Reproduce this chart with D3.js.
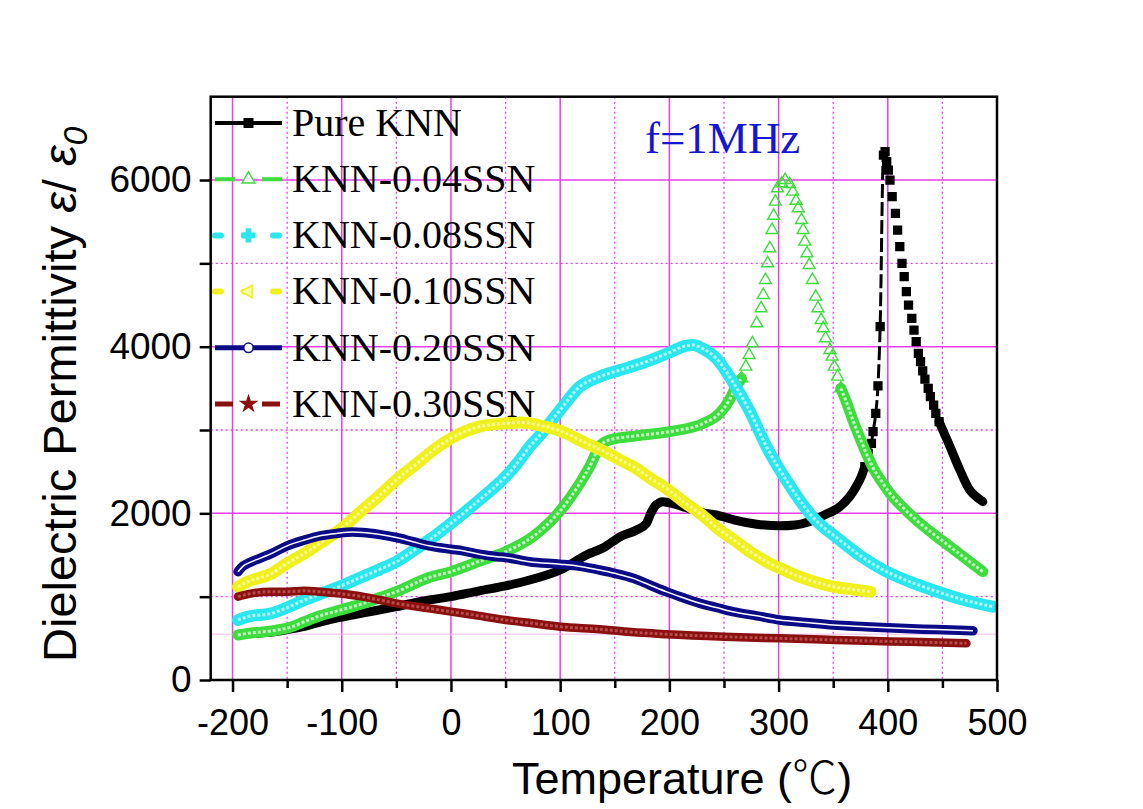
<!DOCTYPE html>
<html>
<head>
<meta charset="utf-8">
<script src="https://cdn.jsdelivr.net/npm/d3@7"></script>
<style>
  body { margin: 0; background: #fff; }
</style>
</head>
<body>
<svg id="chart" width="1143" height="809"></svg>
<script>
// ---- data: [temperature (°C), permittivity] ----
const pureKNN = [[-195,540],[-186,555],[-164,575],[-150,605],[-134,645],[-120,695],[-104,745],[-80,805],[-50,880],
  [-20,960],[0,1000],[26,1070],[50,1130],[72,1200],[100,1320],[124,1500],[140,1590],[155,1720],[170,1800],[179,1880],
  [183,2000],[187,2090],[194,2140],[205,2110],[215,2070],[230,2010],[246,1970],[260,1920],[280,1870],[301,1850],
  [315,1860],[328,1900],[342,1980],[356,2080],[365,2200],[371,2320],[376,2450],[379,2560],[382,2720],[385,2840],
  [386.5,2980],[389,3200],[391,3530],[393,4240],[396,6300],[397.5,6340],[399,6220],[400.5,6120],[402,6000],[404,5800],
  [407,5600],[409,5400],[411,5200],[413,5000],[415,4840],[417,4660],[419,4500],[422,4340],[424,4200],[426,4060],
  [428,3920],[430,3820],[432,3710],[434,3610],[437,3500],[439,3400],[442,3300],[444,3200],[447,3100],[452,2950],
  [457,2800],[466,2520],[475,2280],[481,2200],[487,2140]];
const knn004 = [[-195,540],[-186,560],[-164,590],[-148,630],[-134,700],[-120,770],[-104,830],[-80,920],[-65,990],
  [-50,1060],[-20,1230],[0,1300],[25,1420],[50,1540],[75,1720],[100,2030],[118,2360],[127,2560],[136,2800],[145,2880],
  [170,2930],[200,2980],[231,3080],[246,3200],[255,3360],[261,3520],[266,3620],[270,3760],[273,3900],[276,4040],
  [280,4280],[284,4460],[286,4620],[288,4800],[290,5000],[292,5180],[294,5400],[295.5,5570],[297,5740],[299,5900],
  [303,5960],[306,6000],[310,5950],[313,5860],[316,5750],[318,5660],[321,5520],[322.5,5400],[324,5260],[326,5120],
  [328,4980],[331,4800],[334,4600],[336,4460],[339,4320],[341,4220],[343,4100],[347,3960],[349,3880],[351,3760],
  [354,3640],[357,3500],[362,3340],[368,3120],[374,2920],[380,2730],[386,2560],[394,2390],[402,2240],[414,2070],
  [426,1920],[441,1760],[457,1600],[472,1450],[487,1300]];
const knn008 = [[-195,720],[-186,760],[-164,800],[-150,870],[-134,960],[-120,1030],[-104,1110],[-81,1240],[-65,1330],
  [-50,1420],[-29,1600],[-20,1680],[0,1880],[15,2040],[26,2160],[42,2340],[50,2440],[63,2640],[72,2800],[81,2930],
  [100,3240],[118,3520],[136,3640],[155,3720],[179,3820],[200,3930],[215,4010],[222,4020],[230,3980],[243,3860],
  [258,3580],[273,3240],[289,2800],[307,2400],[331,1960],[356,1680],[376,1480],[396,1320],[420,1180],[441,1080],
  [470,960],[496,880]];
const knn010 = [[-195,1120],[-186,1180],[-164,1280],[-150,1400],[-134,1520],[-120,1640],[-104,1780],[-81,2040],
  [-65,2220],[-50,2400],[-29,2620],[-20,2720],[0,2900],[26,3040],[50,3080],[65,3090],[80,3060],[100,2990],[124,2840],
  [136,2770],[155,2640],[167,2560],[185,2400],[197,2300],[215,2120],[228,2000],[246,1800],[258,1690],[275,1530],
  [289,1420],[305,1320],[319,1240],[335,1170],[350,1120],[366,1090],[384,1060]];
const knn020 = [[-195,1300],[-190,1370],[-186,1400],[-175,1460],[-164,1520],[-150,1610],[-134,1680],[-120,1730],
  [-104,1760],[-90,1775],[-81,1770],[-65,1745],[-50,1710],[-35,1660],[-20,1610],[0,1570],[11,1550],[26,1510],
  [42,1480],[50,1470],[72,1420],[100,1390],[120,1360],[136,1320],[150,1280],[167,1220],[182,1140],[197,1060],
  [212,990],[228,920],[243,870],[258,820],[280,770],[301,720],[325,690],[350,660],[380,640],[411,620],[445,605],
  [478,590]];
const knn030 = [[-195,1000],[-186,1030],[-164,1060],[-150,1060],[-134,1070],[-120,1060],[-104,1040],[-81,1000],
  [-65,960],[-50,920],[-20,860],[0,820],[26,770],[50,720],[75,680],[100,640],[136,610],[165,575],[197,550],[250,520],
  [301,500],[340,485],[380,470],[420,458],[472,440]];

// temperature spans where the markers stand apart instead of forming a band
const knnSparse = [379, 447];
const knn004Sparse = [266, 357];

const seriesNames = ["Pure KNN", "KNN-0.04SSN", "KNN-0.08SSN", "KNN-0.10SSN", "KNN-0.20SSN", "KNN-0.30SSN"];
const xMajor = [-200, -100, 0, 100, 200, 300, 400, 500];
const xMinor = [-150, -50, 50, 150, 250, 350, 450];
const yMajor = [0, 2000, 4000, 6000];
const yMinor = [1000, 3000, 5000];

// ---- layout ----
const svg = d3.select("#chart");
const box = {left: 210.7, right: 997, top: 96.7, bottom: 680};
const sans = "'Liberation Sans', Arial, sans-serif";
const serif = "'Liberation Serif', 'Times New Roman', serif";

const x = d3.scaleLinear().domain([-220, 500]).range([box.left, box.right]);
const y = d3.scaleLinear().domain([0, 7000]).range([box.bottom, box.top]);

const series = [
  {name: seriesNames[0], data: pureKNN, sparse: knnSparse, color: "#000000", inner: null, width: 9,
    symbol: d3.symbolSquare, size: 62, fill: "#000000", thin: true, dash: null, lw: 4},
  {name: seriesNames[1], data: knn004, sparse: knn004Sparse, color: "#3fdc3f", inner: "#c4f3c4", width: 11,
    symbol: d3.symbolTriangle, size: 62, fill: "#ffffff", thin: false, dash: "20,27", lw: 4},
  {name: seriesNames[2], data: knn008, sparse: null, color: "#2ae6ef", inner: "#b4f5f8", width: 12,
    symbol: d3.symbolCross, size: 80, fill: "#2ae6ef", thin: false, dash: "6,23", lw: 6},
  {name: seriesNames[3], data: knn010, sparse: null, color: "#f0f01c", inner: "#f8f89a", width: 12,
    symbol: d3.symbolTriangle, size: 60, fill: "#fbfbb0", thin: false, dash: "6,23", lw: 6, rotate: -90},
  {name: seriesNames[4], data: knn020, sparse: null, color: "#0b0b86", inner: "#ffffff", width: 9.5,
    symbol: d3.symbolCircle, size: 60, fill: "#ffffff", thin: false, dash: null, lw: 5},
  {name: seriesNames[5], data: knn030, sparse: null, color: "#8a1010", inner: "#b54a4a", width: 8.5,
    symbol: d3.symbolStar, size: 60, fill: "#8a1010", thin: false, dash: "18,29", lw: 5}
];

// ---- grid ----
const grid = svg.append("g");
const pink = "#e83ee8";
grid.selectAll("line.vmaj").data(xMajor.filter(d => d < 500)).join("line")
  .attr("x1", d => x(d)).attr("x2", d => x(d)).attr("y1", box.top).attr("y2", box.bottom)
  .attr("stroke", pink).attr("stroke-width", 1.5);
grid.selectAll("line.vmin").data(xMinor).join("line")
  .attr("x1", d => x(d)).attr("x2", d => x(d)).attr("y1", box.top).attr("y2", box.bottom)
  .attr("stroke", pink).attr("stroke-width", 1.3).attr("stroke-dasharray", "2,3");
grid.selectAll("line.hmaj").data(yMajor.filter(d => d > 0)).join("line")
  .attr("x1", box.left).attr("x2", box.right).attr("y1", d => y(d)).attr("y2", d => y(d))
  .attr("stroke", pink).attr("stroke-width", 1.5);
grid.selectAll("line.hmin").data(yMinor).join("line")
  .attr("x1", box.left).attr("x2", box.right).attr("y1", d => y(d)).attr("y2", d => y(d))
  .attr("stroke", pink).attr("stroke-width", 1.3).attr("stroke-dasharray", "2,3");
// faint reference lines visible in the original
grid.append("line").attr("x1", box.left).attr("x2", box.right).attr("y1", y(550)).attr("y2", y(550))
  .attr("stroke", "#f6b8f2").attr("stroke-width", 1);
grid.append("line").attr("x1", x(200)).attr("x2", x(200)).attr("y1", y(560)).attr("y2", box.bottom)
  .attr("stroke", "#b86a6a").attr("stroke-width", 1);

// ---- curves ----
svg.append("clipPath").attr("id", "plot-clip").append("rect")
  .attr("x", box.left).attr("y", box.top).attr("width", box.right - box.left).attr("height", box.bottom - box.top);
const plot = svg.append("g").attr("clip-path", "url(#plot-clip)");

const line = d3.line().x(d => x(d[0])).y(d => y(d[1])).curve(d3.curveMonotoneX);

series.forEach(s => {
  const g = plot.append("g");
  const runs = s.sparse
    ? [s.data.filter(d => d[0] <= s.sparse[0]), s.data.filter(d => d[0] >= s.sparse[1])]
    : [s.data];
  if (s.thin) {
    // the connecting line only shows on the steep rise up to the peak
    const peakT = s.data[d3.maxIndex(s.data, d => d[1])][0];
    const rise = s.data.filter(d => d[0] >= s.sparse[0] && d[0] <= peakT);
    g.append("path").attr("d", line(rise)).attr("fill", "none")
      .attr("stroke", s.color).attr("stroke-width", 3).attr("stroke-dasharray", "14,4");
  }
  runs.forEach(r => {
    g.append("path").attr("d", line(r)).attr("fill", "none")
      .attr("stroke", s.color).attr("stroke-width", s.width)
      .attr("stroke-linejoin", "round").attr("stroke-linecap", "round");
    if (s.inner) {
      g.append("path").attr("d", line(r)).attr("fill", "none")
        .attr("stroke", s.inner).attr("stroke-width", s.inner === "#ffffff" ? 1.5 : 3)
        .attr("stroke-dasharray", s.inner === "#ffffff" ? null : "3,2");
    }
  });
  if (s.sparse) {
    const dots = s.data.filter(d => d[0] >= s.sparse[0] && d[0] <= s.sparse[1]);
    g.selectAll("path.dot").data(dots).join("path")
      .attr("d", d3.symbol(s.symbol, s.size))
      .attr("transform", d => `translate(${x(d[0])},${y(d[1])})`)
      .attr("fill", s.symbol === d3.symbolTriangle ? "none" : s.fill)
      .attr("stroke", s.color).attr("stroke-width", 1.4);
  }
});

// ---- frame and axes ----
svg.append("rect").attr("x", box.left).attr("y", box.top)
  .attr("width", box.right - box.left).attr("height", box.bottom - box.top)
  .attr("fill", "none").attr("stroke", "#000").attr("stroke-width", 2.5);

const axisStyle = g => {
  g.select(".domain").remove();
  g.selectAll(".tick line").attr("stroke", "#000").attr("stroke-width", 2.5);
};
svg.append("g").attr("transform", `translate(0,${box.bottom})`)
  .call(d3.axisBottom(x).tickValues(xMinor).tickSize(8).tickFormat(""))
  .call(axisStyle);
svg.append("g").attr("transform", `translate(0,${box.bottom})`)
  .call(d3.axisBottom(x).tickValues(xMajor).tickSize(12).tickPadding(17).tickFormat(d => String(d)))
  .call(axisStyle)
  .call(g => g.selectAll("text").attr("font-size", 36).attr("fill", "#000").attr("font-family", sans));
svg.append("g").attr("transform", `translate(${box.left},0)`)
  .call(d3.axisLeft(y).tickValues(yMinor).tickSize(11).tickFormat(""))
  .call(axisStyle);
svg.append("g").attr("transform", `translate(${box.left},0)`)
  .call(d3.axisLeft(y).tickValues(yMajor).tickSize(11).tickPadding(8).tickFormat(d => String(d)))
  .call(axisStyle)
  .call(g => g.selectAll("text").attr("font-size", 37).attr("fill", "#000").attr("font-family", sans));

// axis titles
const xt = svg.append("text").attr("x", 512).attr("y", 794)
  .attr("font-family", sans).attr("font-size", 45).attr("fill", "#000");
xt.append("tspan").text("Temperature (");
xt.append("tspan").attr("font-family", "'Noto Sans CJK SC', sans-serif").attr("font-weight", 300).text("℃");
xt.append("tspan").text(")");

const yt = svg.append("text").attr("transform", "translate(76,662) rotate(-90)")
  .attr("font-family", sans).attr("font-size", 47).attr("fill", "#000");
yt.append("tspan").text("Dielectric Permittivity ");
yt.append("tspan").attr("font-style", "italic").text("ε");
yt.append("tspan").text("/ ");
yt.append("tspan").attr("font-style", "italic").text("ε");
yt.append("tspan").attr("font-style", "italic").attr("font-size", 34).attr("dy", 11).text("0");

// ---- legend ----
const legend = svg.append("g");
const rowY = i => 123 + i * 56.2;
series.forEach((s, i) => {
  const g = legend.append("g").attr("transform", `translate(0,${rowY(i)})`);
  g.append("line").attr("x1", 215).attr("x2", 282).attr("y1", 0).attr("y2", 0)
    .attr("stroke", s.color).attr("stroke-width", s.lw)
    .attr("stroke-linecap", s.dash && s.dash.startsWith("6") ? "round" : "butt")
    .attr("stroke-dasharray", s.dash);
  g.append("path").attr("d", d3.symbol(s.symbol, s.size + 10))
    .attr("transform", `translate(248.5,0) rotate(${s.rotate || 0})`)
    .attr("fill", s.fill).attr("stroke", s.color).attr("stroke-width", 1.5);
  g.append("text").attr("x", 292).attr("y", 0).attr("dy", "0.32em")
    .attr("font-family", serif).attr("font-size", 40).attr("fill", "#000").text(s.name);
});

svg.append("text").attr("x", 645).attr("y", 153)
  .attr("font-family", serif).attr("font-size", 45).attr("fill", "#1616d0").text("f=1MHz");
</script>
</body>
</html>
